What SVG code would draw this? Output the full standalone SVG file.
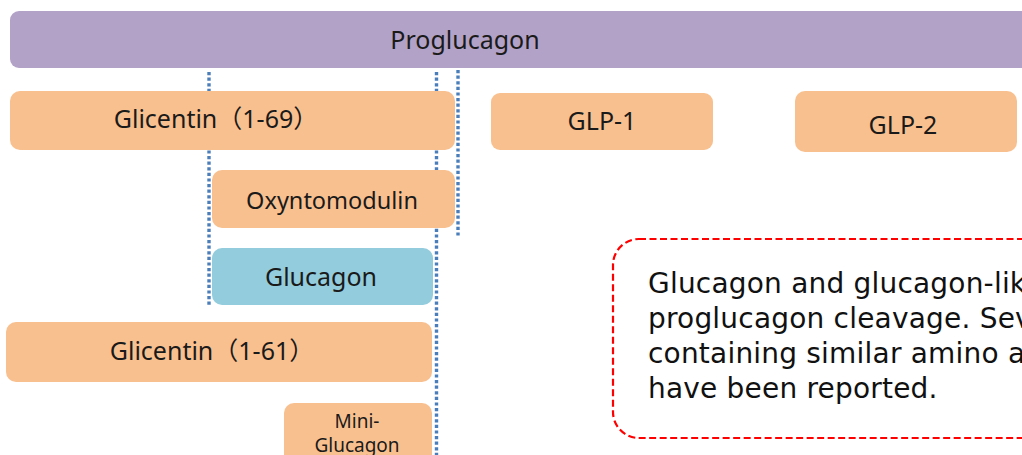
<svg xmlns="http://www.w3.org/2000/svg" width="1022" height="455" viewBox="0 0 1022 455">
<style>
.org{fill:#f9c08f;}
.pur{fill:#b3a2c7;}
.blu{fill:#93cddd;}
.lbl{font-family:"Noto Sans","Noto Sans CJK JP",sans-serif;font-size:25px;fill:#1a1a1a;text-anchor:middle;}
.sm{font-size:19px;}
.dot{stroke:#4a7ebb;stroke-width:3.4;stroke-dasharray:3.2 2.4;fill:none;}
.note{font-family:"DejaVu Sans",Verdana,sans-serif;font-size:28px;letter-spacing:0.2px;fill:#111;}
</style>
<rect width="1022" height="455" fill="#fff"/>
<g id="connectors">
<line class="dot" x1="209" y1="72" x2="209" y2="306"/>
<line class="dot" x1="436.5" y1="72" x2="436.5" y2="455"/>
<line class="dot" x1="458" y1="70" x2="458" y2="238"/>
</g>
<g id="proglucagon">
<rect class="pur" x="10" y="11" width="1030" height="57" rx="9"/>
<text class="lbl" x="465" y="49">Proglucagon</text>
</g>
<g id="glicentin-1-69">
<rect class="org" x="10" y="91" width="445" height="59" rx="10"/>
<text class="lbl" x="216" y="128">Glicentin（1-69）</text>
</g>
<g id="glp1">
<rect class="org" x="491" y="93" width="222" height="57" rx="9"/>
<text class="lbl" x="602" y="130">GLP-1</text>
</g>
<g id="glp2">
<rect class="org" x="795" y="91" width="222" height="61" rx="10"/>
<text class="lbl" x="903" y="134">GLP-2</text>
</g>
<g id="oxyntomodulin">
<rect class="org" x="212" y="170" width="243" height="58" rx="10"/>
<text class="lbl" x="332" y="209" style="font-size:23.5px">Oxyntomodulin</text>
</g>
<g id="glucagon">
<rect class="blu" x="212" y="248" width="221" height="57" rx="10"/>
<text class="lbl" x="321" y="286">Glucagon</text>
</g>
<g id="glicentin-1-61">
<rect class="org" x="6" y="322" width="426" height="60" rx="10"/>
<text class="lbl" x="212" y="360">Glicentin（1-61）</text>
</g>
<g id="mini-glucagon">
<rect class="org" x="284" y="403" width="148" height="70" rx="10"/>
<text class="lbl sm" x="357" y="428">Mini-</text>
<text class="lbl sm" x="357" y="452">Glucagon</text>
</g>
<g id="note">
<rect x="613" y="239" width="440" height="199" rx="26" fill="none" stroke="#ff0000" stroke-width="2.2" stroke-dasharray="7 3.5"/>
<text class="note" x="648" y="293">Glucagon and glucagon-like</text>
<text class="note" x="648" y="328">proglucagon cleavage. Several</text>
<text class="note" x="648" y="363">containing similar amino acid</text>
<text class="note" x="648" y="398">have been reported.</text>
</g>
</svg>
